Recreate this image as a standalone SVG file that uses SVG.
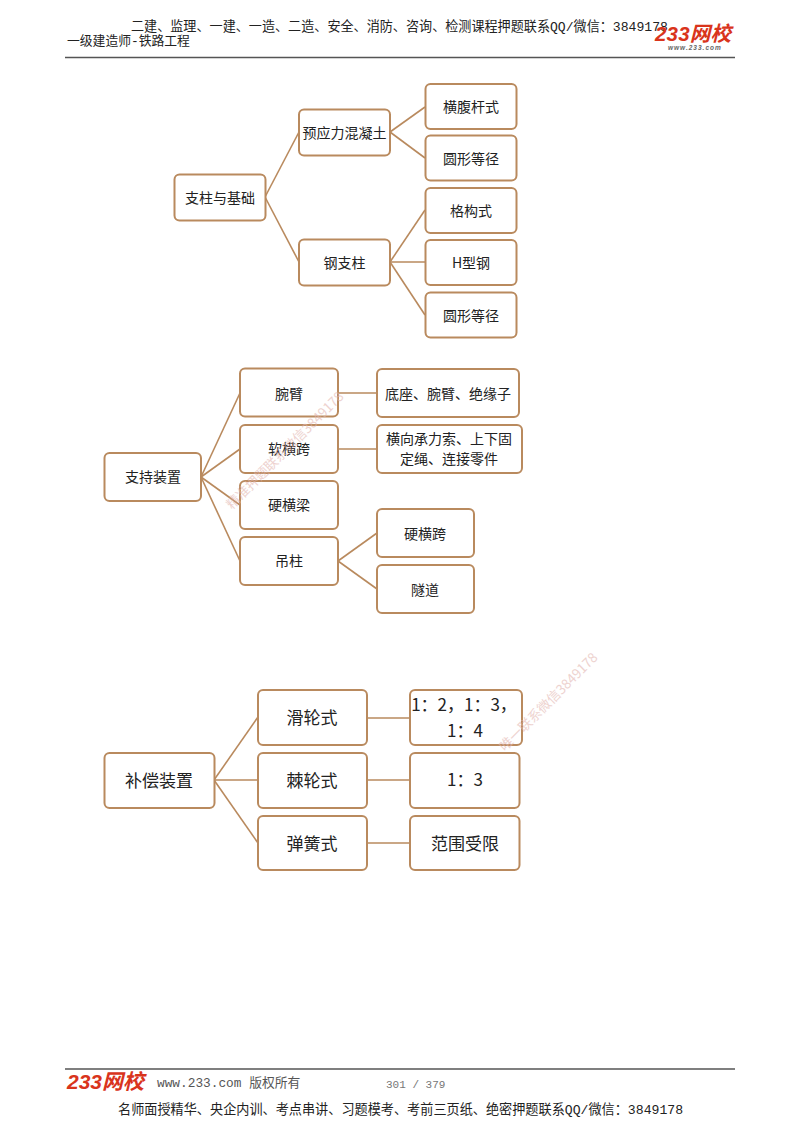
<svg xmlns="http://www.w3.org/2000/svg" width="800" height="1132" viewBox="0 0 800 1132">
<style>
text{font-family:"Noto Sans CJK SC","Liberation Sans",sans-serif;fill:#222}
.n rect{fill:#fff;stroke:#b98a5e;stroke-width:2}
.n text{text-anchor:middle;font-size:14px}
.l text{font-size:17px}
.c line{stroke:#b98a5e;stroke-width:1.6}
.h{font-family:"Liberation Mono","Noto Sans CJK SC",monospace;fill:#222}
.w{font-size:13.4px;fill:#e3b5b0;opacity:.6}
.r{stroke:#555;stroke-width:1.3}
.logo{font-family:"Liberation Sans","Noto Sans CJK SC",sans-serif;font-weight:700;font-style:italic;fill:#d9341c}
</style>
<rect width="800" height="1132" fill="#fff"/>
<g id="header">
<text class="h" x="131" y="31" font-size="13.1">二建、监理、一建、一造、二造、安全、消防、咨询、检测课程押题联系QQ/微信：3849178</text>
<text class="h" x="67" y="45" font-size="12.8">一级建造师-铁路工程</text>
<line class="r" x1="65" y1="57.5" x2="735" y2="57.5"/>
<text class="logo" x="655" y="41" font-size="20.5" letter-spacing=".2">233网校</text>
<text x="668" y="49.500" font-size="6.500" letter-spacing="1" style="fill:#666;font-family:'Liberation Sans',sans-serif;font-style:italic;font-weight:700">www.233.com</text>
</g>
<g id="connectors" class="c">
<line x1="265" y1="197" x2="299" y2="132"/><line x1="265" y1="197" x2="299" y2="262"/>
<line x1="390" y1="132" x2="425" y2="107"/><line x1="390" y1="132" x2="425" y2="158"/>
<line x1="390" y1="262" x2="425" y2="210"/><line x1="390" y1="262" x2="425" y2="262"/><line x1="390" y1="262" x2="425" y2="315"/>
<line x1="201" y1="477" x2="240" y2="393"/><line x1="201" y1="477" x2="240" y2="449"/><line x1="201" y1="477" x2="240" y2="505"/><line x1="201" y1="477" x2="240" y2="561"/>
<line x1="338" y1="393" x2="377" y2="393"/><line x1="338" y1="449" x2="377" y2="449"/>
<line x1="338" y1="561" x2="377" y2="533"/><line x1="338" y1="561" x2="377" y2="589"/>
<line x1="214" y1="780" x2="258" y2="717"/><line x1="214" y1="780" x2="258" y2="780"/><line x1="214" y1="780" x2="258" y2="843"/>
<line x1="367" y1="718" x2="410" y2="718"/><line x1="367" y1="780" x2="410" y2="780"/><line x1="367" y1="843" x2="410" y2="843"/>
</g>
<g id="n1" class="n"><rect x="174.500" y="174.500" width="91" height="46" rx="5"/><text x="220" y="203">支柱与基础</text></g>
<g id="n2" class="n"><rect x="299" y="109.500" width="91" height="46" rx="5"/><text x="344.500" y="138">预应力混凝土</text></g>
<g id="n3" class="n"><rect x="425.500" y="84" width="91" height="45" rx="5"/><text x="471" y="112">横腹杆式</text></g>
<g id="n4" class="n"><rect x="425.500" y="135.500" width="91" height="45" rx="5"/><text x="471" y="164">圆形等径</text></g>
<g id="n5" class="n"><rect x="299" y="239.500" width="91" height="46" rx="5"/><text x="344.500" y="268">钢支柱</text></g>
<g id="n6" class="n"><rect x="425.500" y="188" width="91" height="45" rx="5"/><text x="471" y="216">格构式</text></g>
<g id="n7" class="n"><rect x="425.500" y="240" width="91" height="45" rx="5"/><text x="471" y="268">H型钢</text></g>
<g id="n8" class="n"><rect x="425.500" y="292.500" width="91" height="45" rx="5"/><text x="471" y="321">圆形等径</text></g>
<g id="n9" class="n"><rect x="104.500" y="453" width="96.500" height="48" rx="5"/><text x="153" y="482">支持装置</text></g>
<g id="n10" class="n"><rect x="240" y="368.500" width="98" height="48" rx="5"/><text x="289" y="399">腕臂</text></g>
<g id="n11" class="n"><rect x="240" y="425" width="98" height="48" rx="5"/><text x="289" y="454">软横跨</text></g>
<g id="n12" class="n"><rect x="240" y="481" width="98" height="48" rx="5"/><text x="289" y="510">硬横梁</text></g>
<g id="n13" class="n"><rect x="240" y="537" width="98" height="48" rx="5"/><text x="289" y="566">吊柱</text></g>
<g id="n14" class="n"><rect x="377" y="369" width="142" height="48" rx="5"/><text x="448" y="399">底座、腕臂、绝缘子</text></g>
<g id="n15" class="n"><rect x="377" y="425" width="145" height="48" rx="5"/><text x="449" y="444">横向承力索、上下固</text><text x="449" y="464">定绳、连接零件</text></g>
<g id="n16" class="n"><rect x="377" y="509" width="97" height="48" rx="5"/><text x="425" y="539">硬横跨</text></g>
<g id="n17" class="n"><rect x="377" y="565" width="97" height="48" rx="5"/><text x="425" y="595">隧道</text></g>
<g id="n18" class="n l"><rect x="104.500" y="753" width="110" height="55" rx="5"/><text x="159" y="787">补偿装置</text></g>
<g id="n19" class="n l"><rect x="258" y="690" width="109" height="55" rx="5"/><text x="312" y="724">滑轮式</text></g>
<g id="n20" class="n l"><rect x="258" y="753" width="109" height="55" rx="5"/><text x="312" y="787">棘轮式</text></g>
<g id="n21" class="n l"><rect x="258" y="816" width="109" height="54" rx="5"/><text x="312" y="850">弹簧式</text></g>
<g id="n22" class="n l"><rect x="410" y="690" width="112" height="55" rx="5"/><text x="464" y="711">1：2，1：3，</text><text x="465" y="737">1：4</text></g>
<g id="n23" class="n l"><rect x="410" y="753" width="109.500" height="55" rx="5"/><text x="465" y="786">1：3</text></g>
<g id="n24" class="n l"><rect x="410" y="816" width="109.500" height="54" rx="5"/><text x="465" y="850">范围受限</text></g>
<g id="watermarks">
<text class="w" transform="translate(232 510) rotate(-45)">精准押题联系微信3849178</text>
<text class="w" transform="translate(505 752) rotate(-45)">唯一联系微信3849178</text>
</g>
<g id="footer">
<line class="r" x1="65" y1="1069" x2="735" y2="1069"/>
<text class="logo" x="67" y="1089" font-size="21">233网校</text>
<text class="h" x="157" y="1087" font-size="12.800" style="fill:#555">www.233.com 版权所有</text>
<text class="h" x="386" y="1088" font-size="11" style="fill:#777">301 / 379</text>
<text class="h" x="118" y="1114" font-size="13.150">名师面授精华、央企内训、考点串讲、习题模考、考前三页纸、绝密押题联系QQ/微信：3849178</text>
</g>
</svg>
